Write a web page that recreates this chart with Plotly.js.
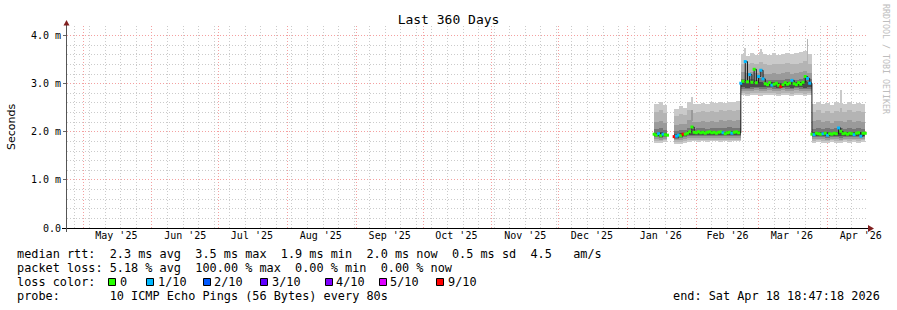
<!DOCTYPE html>
<html><head><meta charset="utf-8">
<script src="https://cdn.plot.ly/plotly-3.0.1.min.js"></script>
<style>
html,body{margin:0;padding:0;background:#fff;}
#chart{width:897px;height:310px;}
</style>
</head><body><div id="chart"></div>
<script>
// ================= DATA (values in milliseconds) =================
const xStart = '2025-04-23 18:47:18';
const xEnd   = '2026-04-18 18:47:18';

const monthStarts = ['2025-05-01','2025-06-01','2025-07-01','2025-08-01','2025-09-01','2025-10-01',
  '2025-11-01','2025-12-01','2026-01-01','2026-02-01','2026-03-01','2026-04-01'];
const monthLabelDates = ['2025-05-16','2025-06-16','2025-07-16','2025-08-16','2025-09-16','2025-10-16',
  '2025-11-16','2025-12-16','2026-01-16','2026-02-15','2026-03-16','2026-04-16'];
const monthLabels = ["May '25","Jun '25","Jul '25","Aug '25","Sep '25","Oct '25",
  "Nov '25","Dec '25","Jan '26","Feb '26","Mar '26","Apr '26"];

const yTickVals = [0, 1, 2, 3, 4];
const yTickText = ['0.0', '1.0 m', '2.0 m', '3.0 m', '4.0 m'];

// smoke (2-day bins): bin centre dates
const smokeDates = ['2026-01-14','2026-01-16','2026-01-18',
  '2026-01-23','2026-01-25','2026-01-27',
  '2026-01-29','2026-01-31','2026-02-02','2026-02-04','2026-02-06','2026-02-08','2026-02-10','2026-02-12','2026-02-14','2026-02-16','2026-02-18','2026-02-20',
  '2026-02-22','2026-02-24','2026-02-26','2026-02-28','2026-03-02','2026-03-04','2026-03-06','2026-03-08','2026-03-10','2026-03-12','2026-03-14','2026-03-16','2026-03-18','2026-03-20','2026-03-22','2026-03-24',
  '2026-03-26','2026-03-28','2026-03-30','2026-04-01','2026-04-03','2026-04-05','2026-04-07','2026-04-09','2026-04-11','2026-04-13','2026-04-15','2026-04-17'];

const smoke1Hi = [2.58,2.61,2.56, 2.48,2.53,2.50,
  2.62,2.57,2.58,2.60,2.57,2.61,2.59,2.62,2.60,2.63,2.61,2.64,
  3.62,3.58,3.63,3.60,3.66,3.61,3.59,3.63,3.60,3.62,3.64,3.61,3.63,3.66,3.68,3.62,
  2.58,2.62,2.57,2.60,2.55,2.61,2.59,2.57,2.62,2.58,2.60,2.57];
const smoke1Lo = [1.77,1.76,1.78, 1.74,1.75,1.77,
  1.79,1.80,1.79,1.80,1.79,1.80,1.80,1.79,1.80,1.79,1.80,1.80,
  2.76,2.74,2.76,2.77,2.75,2.76,2.77,2.76,2.75,2.77,2.76,2.75,2.77,2.76,2.75,2.76,
  1.77,1.78,1.77,1.76,1.78,1.77,1.76,1.78,1.77,1.78,1.77,1.78];
const smoke2Hi = [2.42,2.45,2.40, 2.33,2.37,2.35,
  2.45,2.40,2.42,2.43,2.41,2.44,2.42,2.45,2.43,2.46,2.44,2.45,
  3.42,3.40,3.44,3.41,3.45,3.40,3.39,3.42,3.40,3.41,3.43,3.40,3.42,3.44,3.47,3.42,
  2.42,2.45,2.40,2.43,2.39,2.44,2.42,2.41,2.45,2.42,2.44,2.41];
const smoke2Lo = [1.81,1.80,1.82, 1.78,1.79,1.81,
  1.83,1.84,1.83,1.84,1.83,1.84,1.84,1.83,1.84,1.83,1.84,1.84,
  2.80,2.79,2.80,2.81,2.80,2.80,2.81,2.80,2.79,2.81,2.80,2.79,2.81,2.80,2.79,2.80,
  1.81,1.82,1.81,1.80,1.82,1.81,1.80,1.82,1.81,1.82,1.81,1.82];
const smoke3Hi = [2.20,2.23,2.19, 2.14,2.17,2.16,
  2.24,2.20,2.21,2.22,2.20,2.23,2.21,2.24,2.22,2.25,2.23,2.24,
  3.24,3.22,3.25,3.22,3.26,3.21,3.20,3.22,3.21,3.22,3.24,3.21,3.22,3.24,3.27,3.23,
  2.22,2.24,2.20,2.23,2.19,2.23,2.22,2.21,2.24,2.21,2.23,2.20];
const smoke3Lo = [1.85,1.84,1.86, 1.82,1.83,1.85,
  1.87,1.88,1.87,1.88,1.87,1.88,1.88,1.87,1.88,1.87,1.88,1.88,
  2.85,2.84,2.85,2.86,2.85,2.85,2.86,2.85,2.84,2.86,2.85,2.84,2.86,2.85,2.84,2.85,
  1.85,1.86,1.85,1.84,1.86,1.85,1.84,1.86,1.85,1.86,1.85,1.86];
const smoke4Hi = [2.05,2.07,2.04, 2.01,2.03,2.03,
  2.08,2.06,2.07,2.08,2.06,2.08,2.07,2.08,2.07,2.09,2.08,2.08,
  3.09,3.08,3.10,3.08,3.11,3.07,3.07,3.08,3.07,3.08,3.09,3.07,3.08,3.09,3.12,3.09,
  2.06,2.08,2.05,2.07,2.05,2.08,2.07,2.06,2.08,2.06,2.07,2.05];
const smoke4Lo = [1.89,1.88,1.90, 1.86,1.87,1.89,
  1.91,1.92,1.91,1.92,1.91,1.92,1.92,1.91,1.92,1.91,1.92,1.92,
  2.90,2.89,2.90,2.91,2.90,2.90,2.91,2.90,2.89,2.91,2.90,2.89,2.91,2.90,2.89,2.90,
  1.89,1.90,1.89,1.88,1.90,1.89,1.88,1.90,1.89,1.90,1.89,1.90];
const smoke5Hi = [1.98,1.99,1.97, 1.96,1.97,1.98,
  2.01,2.00,2.00,2.01,2.00,2.01,2.00,2.01,2.00,2.01,2.01,2.01,
  3.03,3.04,3.03,3.02,3.04,3.02,3.02,3.03,3.02,3.02,3.03,3.02,3.03,3.03,3.05,3.03,
  1.99,2.00,1.99,1.99,1.98,2.00,2.01,1.99,2.00,1.99,2.00,1.99];
const smoke5Lo = [1.91,1.90,1.91, 1.88,1.89,1.91,
  1.93,1.94,1.93,1.94,1.93,1.94,1.94,1.93,1.94,1.93,1.94,1.94,
  2.93,2.92,2.93,2.94,2.93,2.93,2.94,2.93,2.92,2.94,2.93,2.92,2.94,2.93,2.92,2.93,
  1.92,1.92,1.91,1.91,1.92,1.92,1.91,1.92,1.92,1.92,1.91,1.92];

// short outlier spikes of the smoke
const spikeDates = ['2026-01-30','2026-01-30','2026-02-23','2026-03-02','2026-03-23','2026-04-07','2026-04-07'];
const spikeLo    = [2.55, 2.22, 3.55, 3.55, 3.40, 2.50, 2.22];
const spikeHi    = [2.73, 2.45, 3.75, 3.72, 3.92, 2.87, 2.50];
const spikeShade = [1, 3, 1, 1, 2, 1, 2];

// median rtt, one value per day, per contiguous block
const medianBlockStarts = ['2026-01-13','2026-01-22','2026-01-28','2026-02-21','2026-03-25'];
const median1 = [1.95,1.93,1.96,1.92,1.95,1.94,1.93];
const median2 = [1.90,1.91,1.93,1.92,1.95,1.95];
const median3 = [1.97,2.00,2.10,1.99,1.98,2.00,1.98,1.99,1.97,1.99,2.00,1.98,1.99,1.97,1.99,2.00,1.98,1.96,1.98,1.99,1.97,1.99,2.00,1.98];
const median4 = [3.01,3.05,3.46,3.04,3.19,3.03,3.30,3.02,3.15,3.28,3.10,3.00,2.98,3.02,2.97,2.99,3.01,2.97,2.94,2.98,3.02,2.99,3.01,3.07,3.00,2.98,3.02,2.99,3.03,3.15,3.11,3.01];
const median5 = [1.95,1.94,1.97,1.96,1.95,1.96,1.97,1.93,1.96,1.95,1.97,1.96,2.08,2.01,1.96,1.97,1.95,1.97,1.96,1.94,1.97,1.98,1.91,1.97,1.97];
// packet loss per day (tenths)
const loss1 = [0,0,1,0,1,0,0];
const loss2 = [9,1,1,0,9,0];
const loss3 = [0,0,0,0,0,0,0,0,0,0,0,0,0,0,0,0,1,0,0,0,1,0,0,0];
const loss4 = [1,0,1,0,1,0,0,0,1,1,1,0,0,0,1,0,0,0,9,0,0,0,0,1,0,0,0,0,0,0,1,1];
const loss5 = [0,1,0,0,0,1,0,1,0,0,0,0,1,0,0,0,0,0,0,1,0,0,1,0,0];

// legend content
const rttStats = ['2.3', '3.5', '1.9', '2.0', '0.5'];   // avg, max, min, now, sd
const rttAmps = '4.5';
const lossStats = ['5.18', '100.00', '0.00', '0.00'];  // avg, max, min, now
const lossLabels = ['0', '1/10', '2/10', '3/10', '4/10', '5/10', '9/10'];
const lossCodes  = [0, 1, 2, 3, 4, 5, 9];
const lossColors = ['#26ff00', '#00b8ff', '#0059ff', '#5e00ff', '#7e00ff', '#dd00ff', '#ff0000'];
const probeText = '10 ICMP Echo Pings (56 Bytes) every 80s';
const endText = 'Sat Apr 18 18:47:18 2026';

// ================= STYLE / LAYOUT =================
const smokeColors = ['#cacaca', '#b4b4b4', '#9a9a9a', '#767676', '#4a4a4a'];
const DAY = 86400000;
const PL = 67, PW = 800, PB = 228, PH = 202, YMAX = 4.2;
const px2x = p => (p - PL) / PW;
const py2y = p => (PB - p) / PH;
const nb = s => s.replace(/ /g, '\u00a0');
const mono = 'DejaVu Sans Mono, monospace';
const GRID = '#cbcbcb', MGRID = '#f4a0a0', DASH = '1px,2px';

function addDays(s, n) {
  const d = new Date(s + 'T00:00:00Z');
  d.setUTCDate(d.getUTCDate() + n);
  return d.toISOString().slice(0, 10);
}

// median series assembled from blocks
const medBlocks = [median1, median2, median3, median4, median5];
const lossBlocks = [loss1, loss2, loss3, loss4, loss5];
const medX = [], medY = [], mkX = [], mkY = [], mkC = [];
medBlocks.forEach((blk, b) => {
  blk.forEach((v, i) => {
    const d = addDays(medianBlockStarts[b], i);
    medX.push(d); medY.push(v);
    mkX.push(d); mkY.push(v);
    mkC.push(lossColors[lossCodes.indexOf(lossBlocks[b][i])]);
  });
  if (b === 0) { medX.push(addDays(medianBlockStarts[0], blk.length)); medY.push(null); }
});

function band(lo, hi, color) {
  return {type: 'bar', x: smokeDates, base: lo, y: hi.map((h, i) => h - lo[i]),
    width: 2 * DAY, marker: {color: color, line: {width: 0}}, hoverinfo: 'skip', showlegend: false};
}

const traces = [
  band(smoke1Lo, smoke1Hi, smokeColors[0]),
  band(smoke2Lo, smoke2Hi, smokeColors[1]),
  band(smoke3Lo, smoke3Hi, smokeColors[2]),
  band(smoke4Lo, smoke4Hi, smokeColors[3]),
  band(smoke5Lo, smoke5Hi, smokeColors[4]),
  {type: 'bar', x: spikeDates, base: spikeLo, y: spikeHi.map((h, i) => h - spikeLo[i]),
    width: 0.8 * DAY, marker: {color: spikeShade.map(s => smokeColors[s - 1]), line: {width: 0}},
    hoverinfo: 'skip', showlegend: false},
  {type: 'scatter', mode: 'lines', x: medX, y: medY, connectgaps: false, xaxis: 'x2',
    line: {color: '#1a1a1a', width: 1, shape: 'hv'}, hoverinfo: 'skip', showlegend: false},
  {type: 'scatter', mode: 'markers', x: mkX, y: mkY, xaxis: 'x2',
    marker: {symbol: 'square', size: 3, color: mkC, line: {width: 0}}, hoverinfo: 'skip', showlegend: false}
];

const shapes = [];
// axis lines
shapes.push({type: 'line', layer: 'above', xref: 'paper', yref: 'paper', x0: px2x(62), x1: px2x(869),
  y0: py2y(228.5), y1: py2y(228.5), line: {color: '#000', width: 1}});
shapes.push({type: 'line', layer: 'above', xref: 'paper', yref: 'paper', x0: px2x(66.5), x1: px2x(66.5),
  y0: py2y(232), y1: py2y(24), line: {color: '#555', width: 1}});
// arrows
shapes.push({type: 'path', layer: 'above', xref: 'paper', yref: 'paper',
  path: `M ${px2x(63.5)} ${py2y(25.5)} L ${px2x(69.5)} ${py2y(25.5)} L ${px2x(66.5)} ${py2y(20)} Z`,
  fillcolor: '#801f1f', line: {width: 0}});
shapes.push({type: 'path', layer: 'above', xref: 'paper', yref: 'paper',
  path: `M ${px2x(868)} ${py2y(225)} L ${px2x(868)} ${py2y(232)} L ${px2x(874)} ${py2y(228.5)} Z`,
  fillcolor: '#801f1f', line: {width: 0}});

// legend
const LFS = 11.85;
const annotations = [];
function label(text, px, py, opts) {
  annotations.push(Object.assign({xref: 'paper', yref: 'paper', x: px2x(px), y: py2y(py),
    xanchor: 'left', yanchor: 'middle', showarrow: false, borderpad: 0, text: nb(text),
    font: {family: mono, size: LFS, color: '#000'}}, opts || {}));
}
label(`median rtt:  ${rttStats[0]} ms avg  ${rttStats[1]} ms max  ${rttStats[2]} ms min  ${rttStats[3]} ms now  ${rttStats[4]} ms sd  ${rttAmps}   am/s`, 16, 254);
label(`packet loss: ${lossStats[0]} % avg  ${lossStats[1]} % max  ${lossStats[2]} % min  ${lossStats[3]} % now`, 16, 268);
label('loss color:', 16, 282);
const lossBoxX = [108, 146, 203, 260, 325, 379, 436];
const lossTextX = [119, 157, 213, 271, 335, 389, 447];
lossLabels.forEach((t, i) => {
  shapes.push({type: 'rect', layer: 'above', xref: 'paper', yref: 'paper',
    x0: px2x(lossBoxX[i] + 0.5), x1: px2x(lossBoxX[i] + 7.5), y0: py2y(285.5), y1: py2y(278.5),
    fillcolor: lossColors[i], line: {color: '#000', width: 1}});
  label(t, lossTextX[i], 282);
});
label('probe:       ' + probeText, 16, 296);
label('end: ' + endText, 881, 296, {xanchor: 'right'});
annotations.push({xref: 'paper', yref: 'paper', x: px2x(11), y: py2y(127), textangle: -90,
  showarrow: false, xanchor: 'center', yanchor: 'middle', text: 'Seconds',
  font: {family: 'DejaVu Sans, sans-serif', size: 11, color: '#000'}});
annotations.push({xref: 'paper', yref: 'paper', x: px2x(886), y: py2y(59), textangle: 90,
  showarrow: false, xanchor: 'center', yanchor: 'middle', text: nb('RRDTOOL / TOBI OETIKER'),
  font: {family: mono, size: 8.3, color: '#bdbdbd'}});

const layout = {
  width: 897, height: 310, autosize: false,
  margin: {l: PL, r: 897 - PL - PW, t: 26, b: 310 - PB, pad: 0},
  paper_bgcolor: '#fff', plot_bgcolor: '#fff',
  barmode: 'overlay', bargap: 0, showlegend: false,
  title: {text: 'Last 360 Days', font: {family: mono, size: 13, color: '#000'},
    x: 0.5, xref: 'container', xanchor: 'center', y: 1 - 19 / 310, yref: 'container', yanchor: 'middle'},
  xaxis: {type: 'date', range: [xStart, xEnd], tickmode: 'array', tickvals: monthLabelDates,
    ticktext: monthLabels, ticks: '', showgrid: false, zeroline: false, showline: false,
    tickfont: {family: mono, size: 10, color: '#000'}, fixedrange: true,
    minor: {tickmode: 'linear', tick0: '2025-04-27', dtick: 7 * DAY, showgrid: true,
      gridcolor: GRID, griddash: DASH, gridwidth: 1, ticks: ''}},
  xaxis2: {type: 'date', overlaying: 'x', anchor: 'y', side: 'bottom', range: [xStart, xEnd],
    tickmode: 'array', tickvals: monthStarts, showticklabels: false, ticks: '',
    showgrid: true, gridcolor: MGRID, griddash: DASH, gridwidth: 1,
    zeroline: false, showline: false, fixedrange: true},
  yaxis: {range: [0, YMAX], tickmode: 'array', tickvals: yTickVals, ticktext: yTickText,
    ticks: 'outside', ticklen: 3, tickcolor: '#666', zeroline: false, showline: false,
    showgrid: true, gridcolor: MGRID, griddash: DASH, gridwidth: 1,
    minor: {tickmode: 'linear', tick0: 0, dtick: 0.2, showgrid: true, gridcolor: GRID,
      griddash: DASH, gridwidth: 1, ticks: ''},
    tickfont: {family: mono, size: 10, color: '#000'}, fixedrange: true},
  shapes: shapes,
  annotations: annotations
};

Plotly.newPlot('chart', traces, layout, {displayModeBar: false, staticPlot: true});
</script>
</body></html>
